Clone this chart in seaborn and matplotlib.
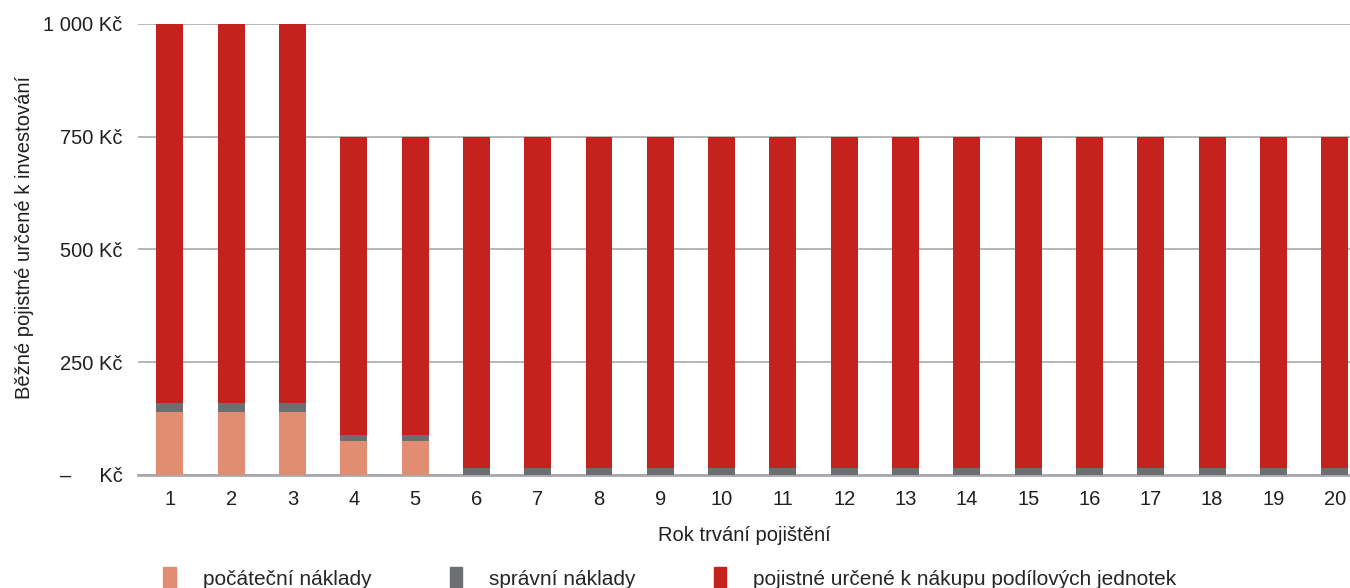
import numpy as np
import pandas as pd
import matplotlib
matplotlib.use('Agg')
import matplotlib.pyplot as plt
import matplotlib.patches as mpatches
import seaborn as sns

# Data
years = list(range(1, 21))
initial_costs = [140, 140, 140, 75, 75] + [0] * 15
admin_costs = [20, 20, 20, 13, 13] + [16] * 15
invest_part = [840, 840, 840, 662, 662] + [734] * 15

labels = ['počáteční náklady', 'správní náklady',
          'pojistné určené k nákupu podílových jednotek']
colors = ['#E08D72', '#6D6E71', '#C4221C']

df = pd.DataFrame({
    'rok': [str(y) for y in years],
    'initial': initial_costs,
    'admin': admin_costs,
    'invest': invest_part,
})
df['lvl1'] = df['initial']
df['lvl2'] = df['initial'] + df['admin']
df['lvl3'] = df['lvl2'] + df['invest']

sns.set_style('white')
plt.rcParams['font.family'] = ['Liberation Sans', 'DejaVu Sans']

fig = plt.figure(figsize=(13.5, 5.88), dpi=100)
ax = fig.add_axes([0.1022, 0.1922, 0.8978, 0.767])

# stacked bars: draw cumulative totals from the top down
order = df['rok'].tolist()
for col, c, z in [('lvl3', colors[2], 3), ('lvl2', colors[1], 4), ('lvl1', colors[0], 5)]:
    sns.barplot(data=df, x='rok', y=col, color=c, order=order, width=0.44,
                saturation=1, linewidth=0, edgecolor='none', ax=ax, zorder=z)

ax.set_xlim(-0.52, 19.25)
ax.set_ylim(0, 1000)
ax.set_yticks([0, 250, 500, 750, 1000])
ax.set_yticklabels(['–     Kč', '250 Kč', '500 Kč', '750 Kč', '1 000 Kč'])
ax.yaxis.grid(True, color='#A7A9AC', linewidth=1.2, zorder=0)
ax.xaxis.grid(False)
for s in ['top', 'right', 'left']:
    ax.spines[s].set_visible(False)
ax.spines['bottom'].set_color('#A7A9AC')
ax.spines['bottom'].set_linewidth(2)
ax.tick_params(axis='y', length=0, pad=11, labelsize=14.5, colors='#231F20')
ax.tick_params(axis='x', length=0, pad=11, labelsize=14.5, colors='#231F20')

ax.set_xlabel('Rok trvání pojištění', fontsize=14.5, color='#231F20', labelpad=12)
ax.set_ylabel('Běžné pojistné určené k investování', fontsize=14.5,
              color='#231F20')
ax.yaxis.set_label_coords(-0.086, 0.527)

handles = [mpatches.Patch(color=c, label=l) for c, l in zip(colors, labels)]
fig.legend(handles=handles, loc='lower left', bbox_to_anchor=(0.107, -0.035),
           ncol=3, frameon=False, fontsize=15, handlelength=0.6,
           handleheight=1.3, handletextpad=1.3, columnspacing=3.75)

fig.savefig('out.png', dpi=100)
